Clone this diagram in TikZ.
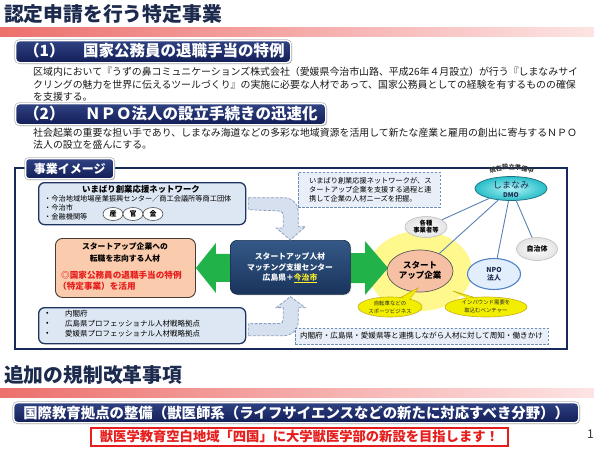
\documentclass[tikz,border=0pt]{standalone}
\usepackage{fontspec}
\setmainfont{Noto Sans CJK JP}
\usetikzlibrary{shapes.geometric,shadows,calc,decorations.text}
\newcommand\myfs[1]{\fontsize{#1}{#1}\selectfont}
\newcommand\myfsl[2]{\fontsize{#1}{#2}\selectfont}
\definecolor{titlec}{RGB}{28,42,78}
\definecolor{bannerT}{RGB}{48,66,130}
\definecolor{bannerB}{RGB}{18,30,88}
\definecolor{barL}{RGB}{236,112,108}
\definecolor{barR}{RGB}{253,228,228}
\definecolor{framec}{RGB}{24,42,92}
\definecolor{lbfill}{RGB}{221,231,244}
\definecolor{lbdraw}{RGB}{31,52,96}
\definecolor{ofill}{RGB}{250,203,172}
\definecolor{odraw}{RGB}{70,60,55}
\definecolor{redt}{RGB}{230,30,30}
\definecolor{greenA}{RGB}{34,178,74}
\definecolor{cboxT}{RGB}{52,88,135}
\definecolor{cboxB}{RGB}{26,52,92}
\definecolor{dfill}{RGB}{232,239,248}
\definecolor{ddraw}{RGB}{110,140,180}
\definecolor{afill}{RGB}{214,224,238}
\definecolor{adraw}{RGB}{140,160,192}
\definecolor{dmoO}{RGB}{40,190,200}
\definecolor{dmoI}{RGB}{175,242,246}
\definecolor{dmoD}{RGB}{30,110,130}
\definecolor{linkc}{RGB}{90,130,180}
\definecolor{salmon}{RGB}{246,192,165}
\definecolor{npoF}{RGB}{226,238,252}
\definecolor{npoD}{RGB}{80,130,200}
\definecolor{yel}{RGB}{242,238,0}
\definecolor{yelD}{RGB}{200,175,20}
\definecolor{glowc}{RGB}{255,248,140}
\definecolor{yellowt}{RGB}{255,240,40}
\pgfdeclareradialshading{glowsh}{\pgfpoint{0bp}{0bp}}{color(0bp)=(glowc); color(30bp)=(glowc); color(48bp)=(white); color(50bp)=(white)}
\begin{document}
\begin{tikzpicture}[x=1pt,y=-1pt,
  banner/.style={rounded corners=4pt, top color=bannerT, bottom color=bannerB, draw=white, line width=1.3pt,
    preaction={draw=gray!55, line width=2.8pt},
    drop shadow={opacity=0.3, shadow xshift=1.5pt, shadow yshift=-1.5pt}, inner sep=0pt},
  btext/.style={text=white, font=\myfs{15.5}\bfseries, inner sep=0pt},
  para/.style={anchor=west, font=\myfs{9.9}, text=black!90, inner sep=0pt},
  lbox/.style={rounded corners=6pt, fill=lbfill, draw=lbdraw, line width=1.3pt, inner sep=0pt},
  small/.style={anchor=west, font=\myfs{7.2}, inner sep=0pt},
  oval/.style={ellipse, draw=black!70, fill=white, line width=0.6pt, minimum width=20pt, minimum height=13pt, inner sep=0pt, font=\myfs{7}\bfseries},
  dasharrow/.style={fill=afill, draw=adraw, line width=0.8pt, dash pattern=on 3pt off 1.5pt},
  dbox/.style={fill=dfill, draw=ddraw, line width=0.7pt, dash pattern=on 2.5pt off 1.5pt, inner sep=0pt},
  greenarrow/.style={fill=greenA},
  link/.style={draw=linkc, line width=0.9pt},
  ell/.style={ellipse, inner sep=0pt},
  etext/.style={align=center, inner sep=0pt},
  cal/.style={fill=yel, draw=yelD, line width=0.6pt},
]
\useasboundingbox (0,0) rectangle (594,450);
\fill[white] (0,0) rectangle (594,450);

% ---------- Section 1 title
\node[anchor=west, text=titlec, font=\myfs{19.8}\bfseries, inner sep=0pt] (t1) at (4,14) {認定申請を行う特定事業};
\shade[left color=barL, right color=barR] (0,27) rectangle (594,36);

% banner (1)
\node[banner, anchor=north west, minimum width=275pt, minimum height=22pt] (b1) at (15,40) {};
\node[btext, anchor=west] (b1t) at (24,51) {\makebox[59pt][l]{（1）}国家公務員の退職手当の特例};

\node[para] (p1a) at (33,72) {区域内において『うずの鼻コミュニケーションズ株式会社（愛媛県今治市山路、平成26年４月設立）が行う『しまなみサイ};
\node[para] (p1b) at (33,84.5) {クリングの魅力を世界に伝えるツールづくり』の実施に必要な人材であって、国家公務員としての経験を有するものの確保};
\node[para] (p1c) at (33,97) {を支援する。};

% banner (2)
\node[banner, anchor=north west, minimum width=310pt, minimum height=21pt] (b2) at (15,103) {};
\node[btext, anchor=west] (b2t) at (24,113.5) {\makebox[61pt][l]{（2）}ＮＰＯ法人の設立手続きの迅速化};

\node[para] (p2a) at (33,133) {社会起業の重要な担い手であり、しまなみ海道などの多彩な地域資源を活用して新たな産業と雇用の創出に寄与するＮＰＯ};
\node[para] (p2b) at (33,145) {法人の設立を盛んにする。};

% ---------- Frame
\draw[draw=framec, line width=2.5pt] (15,168) rectangle (567,349);
\node[banner, anchor=north west, minimum width=88pt, minimum height=20pt, rounded corners=3pt, text=white, font=\myfs{12}\bfseries] (tag) at (25,158) {事業イメージ};

% network box
\node[lbox, anchor=north west, minimum width=207pt, minimum height=42pt] (net) at (38,182) {};
\node[font=\myfs{8.4}\bfseries, inner sep=0pt] (nett) at (141,189.5) {いまばり創業応援ネットワーク};
\node[small] (n1) at (44,199) {・今治地域地場産業振興センター／商工会議所等商工団体};
\node[small] (n2) at (44,208) {・今治市};
\node[small] (n3) at (44,217) {・金融機関等};
\node[oval] (o1) at (113,214) {産};
\node[oval] (o2) at (133,214) {官};
\node[oval] (o3) at (153,214) {金};

% dashed note
\node[dbox, anchor=north west, minimum width=142pt, minimum height=35pt] (dnote) at (298,172) {};
\node[font=\myfsl{7.2}{9}, align=left, anchor=west, inner sep=0pt] (dnotet) at (309,189.5) {いまばり創業応援ネットワークが、ス\\タートアップ企業を支援する過程と連\\携して企業の人材ニーズを把握。};

% orange box
\node[rounded corners=7pt, fill=ofill, draw=odraw, line width=0.9pt, anchor=north west, minimum width=140pt, minimum height=59pt, inner sep=0pt] (obox) at (55,238) {};
\node[font=\myfs{7.8}\bfseries, inner sep=0pt] (ot1) at (125,247) {スタートアップ企業への};
\node[font=\myfs{7.8}\bfseries, inner sep=0pt] (ot2) at (125,259) {転職を志向する人材};
\node[font=\myfs{8.6}\bfseries, text=redt, anchor=west, inner sep=0pt] (ot3) at (61,275) {◎国家公務員の退職手当の特例};
\node[font=\myfs{8.6}\bfseries, text=redt, anchor=west, inner sep=0pt] (ot4) at (58,286) {（特定事業）を活用};

% glow behind startup
\shade[shading=glowsh] (420,271) ellipse (52pt and 40pt);

\coordinate (cW) at (230,267);
\coordinate (cE) at (350,267);

% green arrows
\fill[greenarrow] (obox.east) -- ++(20,-25) -- ++(0,11) -- ++(17,0) -- ++(0,28) -- ++(-17,0) -- ++(0,11) -- cycle;
\fill[greenarrow] ($(cE)+(-2,-14)$) -- ++(17,0) -- ++(0,-12) -- ++(23,27) -- ++(-23,27) -- ++(0,-12) -- ++(-17,0) -- cycle;

% center box
\node[rounded corners=7pt, top color=cboxT, bottom color=cboxB, draw=cboxB!80!black, line width=0.6pt, anchor=north west, minimum width=120pt, minimum height=54pt, inner sep=0pt,
  drop shadow={opacity=0.3, shadow xshift=1pt, shadow yshift=-1pt}] (cbox) at (230,240) {};
\node[text=white, font=\myfsl{7.8}{10.2}\bfseries, align=center, inner sep=0pt] (cboxt) at (290,268) {スタートアップ人材\\マッチング支援センター\\広島県＋\textcolor{yellowt}{\underline{今治市}}};

% bottom-left box
\node[lbox, anchor=north west, minimum width=207pt, minimum height=36pt] (gov) at (38,307) {};
\node[small, font=\myfs{7.5}] (g1b) at (46,314) {•};
\node[small, font=\myfs{7.5}] (g2b) at (46,324) {•};
\node[small, font=\myfs{7.5}] (g3b) at (46,334) {•};
\node[small, font=\myfs{7.5}] (g1) at (65,314) {内閣府};
\node[small, font=\myfs{7.5}] (g2) at (65,324) {広島県プロフェッショナル人材戦略拠点};
\node[small, font=\myfs{7.5}] (g3) at (65,334) {愛媛県プロフェッショナル人材戦略拠点};

% dashed curved arrows
\path[dasharrow] ($(net.east)+(2,-6)$) -- ++(35,0) .. controls +(9,0) and +(0,-9) .. ++(15,15) -- ++(0,14) -- ++(7,0) -- (cbox.north) -- ++(-14,-12) -- ++(7,0) -- ++(0,-11) .. controls +(0,-4) and +(3,0) .. ++(-4,-6) -- ($(net.east)+(2,6)$) -- cycle;
\path[dasharrow] ($(gov.east)+(2,10)$) -- ++(35,0) .. controls +(9,0) and +(0,9) .. ++(15,-15) -- ++(0,-13) -- ++(7,0) -- ($(cbox.south)+(0,2)$) -- ++(-14,11) -- ++(7,0) -- ++(0,11) .. controls +(0,3) and +(3,0) .. ++(-4,5) -- ($(gov.east)+(2,-2)$) -- cycle;

% bottom dashed note
\node[dbox, anchor=north west, minimum width=253pt, minimum height=16pt] (bnote) at (295,328) {};
\node[font=\myfs{7.6}, inner sep=0pt] (bnotet) at (421.5,336) {内閣府・広島県・愛媛県等と連携しながら人材に対して周知・働きかけ};

% right-side ellipses
\node[ell, minimum width=72pt, minimum height=24pt, inner color=dmoI, outer color=dmoO, draw=dmoD, line width=0.7pt] (dmo) at (511,188.5) {};
\node[font=\myfs{9}, text=titlec, inner sep=0pt] (dmot1) at (511,185) {しまなみ};
\node[font=\myfs{6.5}\bfseries, text=titlec, inner sep=0pt] (dmot2) at (511,195.5) {DMO};
\path[decorate, decoration={text along path, text align=center, text={|\myfs{6.2}\bfseries\color{black!80}|現在設立準備中}}] (486,176) .. controls (497,167) and (525,167) .. (537,177);

\node[ell, minimum width=42pt, minimum height=21pt, inner color=white, outer color=gray!22, draw=gray!55, line width=0.5pt] (kaku) at (426,227) {};
\node[etext, font=\myfsl{6.3}{7.5}\bfseries] (kakut) at (426,226.5) {各種\\事業者等};
\node[ell, minimum width=41pt, minimum height=23pt, inner color=white, outer color=gray!22, draw=gray!55, line width=0.5pt] (jichi) at (537,249) {};
\node[etext, font=\myfs{7}\bfseries] (jichit) at (537,249) {自治体};
\node[ell, minimum width=66pt, minimum height=42pt, fill=salmon, draw=black!65, line width=0.7pt] (start) at (420,271) {};
\node[etext, font=\myfsl{8.5}{10.5}\bfseries] (startt) at (420,270.5) {スタート\\アップ企業};
\node[ell, minimum width=53pt, minimum height=31pt, fill=npoF, draw=npoD, line width=1.1pt] (npo) at (494,274) {};
\node[etext, font=\myfsl{6.8}{8.5}\bfseries, text=titlec] (npot) at (494,274) {NPO\\法人};

\draw[link] (dmo) -- (kaku);
\draw[link] (dmo) -- (start);
\draw[link] (dmo) -- (npo);
\draw[link] (dmo) -- (jichi);

% callouts
\coordinate (tip1) at (418,288);
\coordinate (tip2) at (453,291);
\filldraw[cal] (398,299) -- (tip1) -- (409,300) -- cycle;
\filldraw[cal] (471,299) -- (tip2) -- (481,299.5) -- cycle;
\node[ell, minimum width=64pt, minimum height=20pt, fill=yel, draw=yelD, line width=0.6pt] (cal1) at (390,307) {};
\node[ell, minimum width=82pt, minimum height=20pt, fill=yel, draw=yelD, line width=0.6pt] (cal2) at (486,307) {};
\fill[yel] (399.5,300.5) -- (416.5,289.5) -- (407.5,301.5) -- cycle;
\fill[yel] (472.5,300.5) -- (455,292.5) -- (479.5,301) -- cycle;
\node[etext, font=\myfsl{5.4}{8}, text=black!85] (cal1t) at (390,307) {自転車などの\\スポーツビジネス};
\node[etext, font=\myfsl{5.4}{8}, text=black!85] (cal2t) at (486,307) {インバウンド需要を\\取込むベンチャー};

% ---------- Section 2
\node[anchor=west, text=titlec, font=\myfs{19.8}\bfseries, inner sep=0pt] (t2) at (4,375) {追加の規制改革事項};
\shade[left color=barL, right color=barR] (0,388) rectangle (594,397);

\node[banner, anchor=north west, minimum width=565pt, minimum height=20pt] (b3) at (13,402) {};
\node[text=white, font=\myfs{14.4}\bfseries, inner sep=0pt] (b3t) at (b3.center) {国際教育拠点の整備（獣医師系（ライフサイエンスなどの新たに対応すべき分野））};

\node[draw=redt, line width=1.8pt, fill=white, anchor=north west, minimum width=417pt, minimum height=18pt, inner sep=0pt] (rbox) at (90,427) {};
\node[text=redt, font=\myfs{13.3}\bfseries, inner sep=0pt] (rboxt) at (rbox.center) {獣医学教育空白地域「四国」に大学獣医学部の新設を目指します！};

\node[font=\myfs{12}, text=black!80, anchor=west, inner sep=0pt] (pg) at (587,434) {1};
\end{tikzpicture}
\end{document}
